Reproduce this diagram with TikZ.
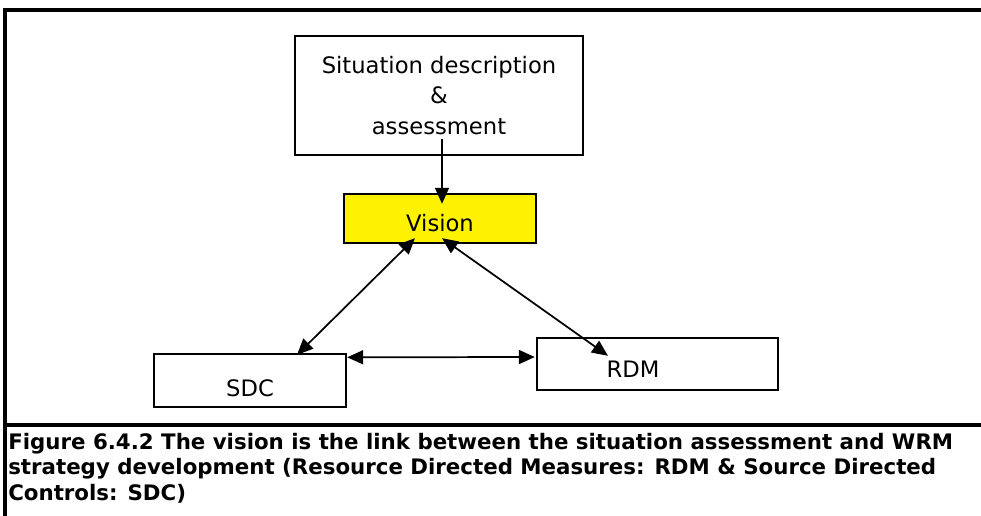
\documentclass[tikz,border=0pt]{standalone}
\usepackage{fontspec}
\setmainfont{DejaVu Sans}
\usetikzlibrary{arrows.meta}

\tikzstyle{box} = [rectangle, draw, line width=1.8pt, inner sep=0pt, align=center, font=\fontsize{17}{23}\selectfont]
\tikzstyle{vis} = [box, fill=yellow, minimum width=144pt, minimum height=36.75pt, text height=19.2pt, text depth=0pt]
\tikzstyle{arrow} = [line width=1.3pt, -{Triangle[length=12pt,width=10.5pt]}]
\tikzstyle{twoway} = [line width=1.3pt, {Triangle[length=12pt,width=10.5pt]}-{Triangle[length=12pt,width=10.5pt]}]
\tikzstyle{frame} = [line width=2.5pt]
\tikzstyle{caption} = [anchor=north west, inner sep=0pt, align=left, font=\fontsize{16}{19}\selectfont\bfseries]

\begin{document}
\begin{tikzpicture}[x=0.75pt, y=-0.75pt]
            \useasboundingbox (0,0) rectangle (981,515);
            \draw [frame] (990,10) -- (5,10) -- (5,520);
            \draw [frame] (5,425) -- (990,425);

            \node [box, minimum width=216pt, minimum height=89.25pt] at (439,95.5) (sit) {Situation description\\\&\\assessment};
            \node [vis] at (440,218.5) (vision) {Vision};
            \node [box, minimum width=144pt, minimum height=39.75pt, text height=23.6pt, text depth=0pt] at (250,380.5) (sdc) {SDC};
            \node [box, minimum width=180.75pt, minimum height=39pt, label={[name=rdmname, font=\fontsize{17}{23}\selectfont, xshift=-18.4pt, yshift=-3.75pt]center:RDM}] at (657.5,364) (rdm) {};
            \node [caption] at (8,433) (caption) {Figure 6.4.2 The vision is the link between the situation assessment and WRM\\strategy development (Resource Directed Measures: RDM \& Source Directed\\Controls: SDC)};

            \draw [arrow] ([shift={(3,-17)}]sit.south) -- ([shift={(2,11)}]vision.north);
            \draw [twoway] ([shift={(47,2)}]sdc.north) -- ([shift={(-25,-6)}]vision.south);
            \draw [twoway] ([shift={(-49.5,19)}]rdm.north) -- ([shift={(2,-6)}]vision.south);
            \draw [twoway] ([shift={(0,4.5)}]sdc.north east) -- ([shift={(-1,-7)}]rdm.west);
\end{tikzpicture}
\end{document}
